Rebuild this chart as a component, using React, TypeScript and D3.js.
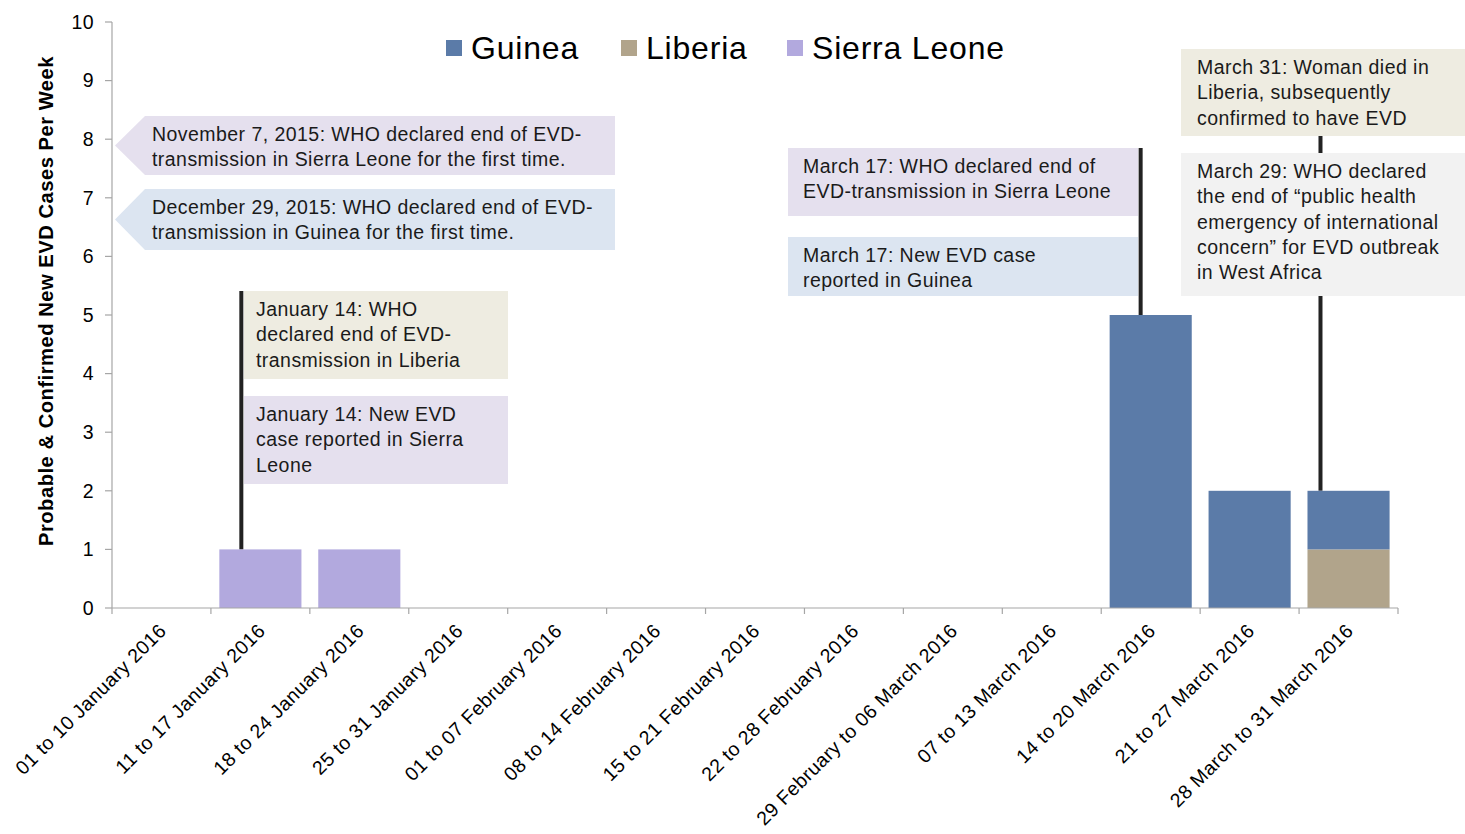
import React from "react";
import * as d3 from "d3";

// weekly probable & confirmed EVD cases, 2016
const weeks = [
  "01 to 10 January 2016",
  "11 to 17 January 2016",
  "18 to 24 January 2016",
  "25 to 31 January 2016",
  "01 to 07 February 2016",
  "08 to 14 February 2016",
  "15 to 21 February 2016",
  "22 to 28 February 2016",
  "29 February to 06 March 2016",
  "07 to 13 March 2016",
  "14 to 20 March 2016",
  "21 to 27 March 2016",
  "28 March to 31 March 2016",
];
const guinea = [0, 0, 0, 0, 0, 0, 0, 0, 0, 0, 5, 2, 1];
const liberia = [0, 0, 0, 0, 0, 0, 0, 0, 0, 0, 0, 0, 1];
const sierraLeone = [0, 1, 1, 0, 0, 0, 0, 0, 0, 0, 0, 0, 0];
const yTicks = [0, 1, 2, 3, 4, 5, 6, 7, 8, 9, 10];

const legendItems = ["Guinea", "Liberia", "Sierra Leone"];
const stackKeys = ["Liberia", "Guinea", "Sierra Leone"];

const colors: Record<string, string> = {
  Guinea: "#5B7BA8",
  Liberia: "#B1A48B",
  "Sierra Leone": "#B2A9DE",
};

const boxFill = {
  lavender: "#E5E0EE",
  blue: "#DCE5F1",
  beige: "#EEECE1",
  gray: "#F2F2F2",
};

const width = 1465;
const height = 834;
const margin = { left: 112, right: 67, top: 22, bottom: 226 };
const font = "Arial, 'Liberation Sans', sans-serif";
const fs = 19.5;
const ls = 0.45;

type Box = {
  x: number;
  y: number;
  w: number;
  h: number;
  fill: string;
  lines: string[];
  pad: number;
  arrow?: boolean;
};

const boxes: Box[] = [
  {
    x: 115, y: 116, w: 500, h: 59, fill: boxFill.lavender, arrow: true, pad: 37,
    lines: ["November 7, 2015: WHO declared end of EVD-", "transmission in Sierra Leone for the first time."],
  },
  {
    x: 115, y: 189, w: 500, h: 61, fill: boxFill.blue, arrow: true, pad: 37,
    lines: ["December 29, 2015: WHO declared end of EVD-", "transmission in Guinea for the first time."],
  },
  {
    x: 244, y: 291, w: 264, h: 88, fill: boxFill.beige, pad: 12,
    lines: ["January 14: WHO", "declared end of EVD-", "transmission in Liberia"],
  },
  {
    x: 244, y: 396, w: 264, h: 88, fill: boxFill.lavender, pad: 12,
    lines: ["January 14: New EVD", "case reported in Sierra", "Leone"],
  },
  {
    x: 788, y: 148, w: 350, h: 68, fill: boxFill.lavender, pad: 15,
    lines: ["March 17: WHO declared end of", "EVD-transmission in Sierra Leone"],
  },
  {
    x: 788, y: 237, w: 350, h: 59, fill: boxFill.blue, pad: 15,
    lines: ["March 17: New EVD case", "reported in Guinea"],
  },
  {
    x: 1181, y: 49, w: 284, h: 87, fill: boxFill.beige, pad: 16,
    lines: ["March 31: Woman died in", "Liberia, subsequently", "confirmed to have EVD"],
  },
  {
    x: 1181, y: 153, w: 284, h: 143, fill: boxFill.gray, pad: 16,
    lines: [
      "March 29: WHO declared",
      "the end of \u201Cpublic health",
      "emergency of international",
      "concern\u201D for EVD outbreak",
      "in West Africa",
    ],
  },
];

// leader lines: week index, offset from bar start, top pixel
const leaders = [
  { week: 1, dx: 22, top: 291 },
  { week: 10, dx: 31, top: 148 },
  { week: 12, dx: 13, top: 136 },
];

export default function App() {
  const x = d3
    .scaleBand<string>()
    .domain(weeks)
    .range([margin.left, width - margin.right])
    .paddingInner(0.17)
    .paddingOuter(0.085);

  const y = d3
    .scaleLinear()
    .domain([0, 10])
    .range([height - margin.bottom, margin.top]);

  const rows = weeks.map((w, i) => ({
    week: w,
    Guinea: guinea[i],
    Liberia: liberia[i],
    "Sierra Leone": sierraLeone[i],
  }));
  const series = d3.stack<any>().keys(stackKeys)(rows);

  const step = x.step();
  const gap = (step - x.bandwidth()) / 2;
  const boundaries = weeks.map((w) => (x(w) as number) - gap);
  boundaries.push((x(weeks[weeks.length - 1]) as number) + x.bandwidth() + gap);

  const y0 = y(0);

  return (
    <svg width={width} height={height} style={{ position: "absolute", left: 0, top: 0, background: "#fff" }} fontFamily={font}>
      {/* leader lines, behind the boxes */}
      {leaders.map((l, i) => {
        const total = guinea[l.week] + liberia[l.week] + sierraLeone[l.week];
        const lx = (x(weeks[l.week]) as number) + l.dx;
        return <line key={"ld" + i} x1={lx} x2={lx} y1={l.top} y2={y(total)} stroke="#222" strokeWidth={4} />;
      })}

      {/* annotation boxes */}
      {boxes.map((b, i) => (
        <g key={"box" + i}>
          {b.arrow ? (
            <path
              d={`M${b.x},${b.y + b.h / 2} L${b.x + 30},${b.y} L${b.x + b.w},${b.y} L${b.x + b.w},${b.y + b.h} L${b.x + 30},${b.y + b.h} Z`}
              fill={b.fill}
            />
          ) : (
            <rect x={b.x} y={b.y} width={b.w} height={b.h} fill={b.fill} />
          )}
          {b.lines.map((l, j) => (
            <text
              key={j}
              x={b.x + b.pad}
              y={b.y + 25 + j * 25.3}
              fontSize={fs}
              letterSpacing={ls}
              fill="#1a1a1a"
            >
              {l}
            </text>
          ))}
        </g>
      ))}

      {/* bars */}
      {series.map((s) => (
        <g key={s.key} fill={colors[s.key]}>
          {s.map((d, i) =>
            d[1] - d[0] > 0 ? (
              <rect
                key={i}
                x={x(weeks[i])}
                y={y(d[1])}
                width={x.bandwidth()}
                height={y(d[0]) - y(d[1])}
              />
            ) : null
          )}
        </g>
      ))}

      {/* y axis */}
      <line x1={margin.left} x2={margin.left} y1={y(10)} y2={y0} stroke="#A6A6A6" strokeWidth={1.2} />
      {yTicks.map((t) => (
        <g key={t}>
          <line x1={margin.left - 7} x2={margin.left} y1={y(t)} y2={y(t)} stroke="#A6A6A6" strokeWidth={1.2} />
          <text x={margin.left - 18} y={y(t)} dy="0.35em" textAnchor="end" fontSize={fs} letterSpacing={ls} fill="#000">
            {t}
          </text>
        </g>
      ))}
      <text
        transform={`translate(53, ${(y(10) + y0) / 2 - 14}) rotate(-90)`}
        textAnchor="middle"
        fontSize={20.2}
        letterSpacing={0.5}
        fontWeight="bold"
        fill="#000"
      >
        Probable &amp; Confirmed New EVD Cases Per Week
      </text>

      {/* x axis */}
      <line x1={margin.left} x2={width - margin.right} y1={y0} y2={y0} stroke="#A6A6A6" strokeWidth={1.2} />
      {boundaries.map((bx, i) => (
        <line key={"xt" + i} x1={bx} x2={bx} y1={y0} y2={y0 + 6} stroke="#A6A6A6" strokeWidth={1.2} />
      ))}
      {weeks.map((w) => {
        const cx = (x(w) as number) + x.bandwidth() / 2;
        return (
          <text
            key={w}
            transform={`translate(${cx + 6}, ${y0 + 24}) rotate(-45)`}
            textAnchor="end"
            fontSize={fs}
            letterSpacing={ls}
            fill="#000"
          >
            {w}
          </text>
        );
      })}

      {/* legend */}
      {legendItems.map((k, i) => {
        const lx = [446, 621, 787][i];
        return (
          <g key={k} transform={`translate(${lx}, 40)`}>
            <rect x={0} y={0} width={16} height={16} fill={colors[k]} />
            <text x={25} y={19} fontSize={32} letterSpacing={0.8} fill="#000">
              {k}
            </text>
          </g>
        );
      })}
    </svg>
  );
}
